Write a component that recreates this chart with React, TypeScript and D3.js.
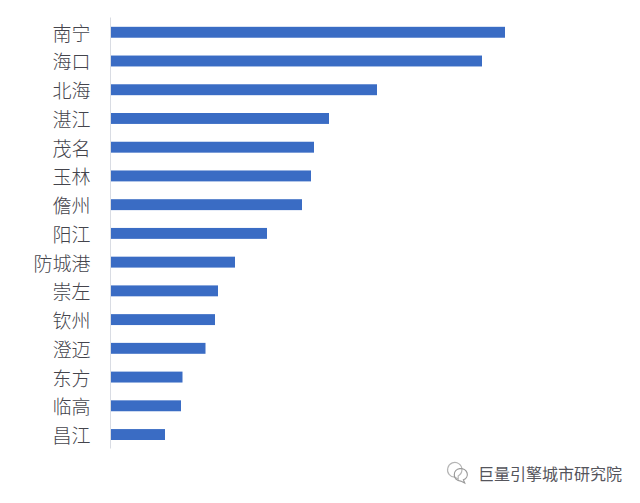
import React from 'react';
import * as d3 from 'd3';

const cities = ['南宁', '海口', '北海', '湛江', '茂名', '玉林', '儋州', '阳江', '防城港', '崇左', '钦州', '澄迈', '东方', '临高', '昌江'];
const values = [394, 371, 266, 218, 203, 200, 191, 156, 124, 107, 104, 94.5, 71.5, 70, 54];

const width = 640;
const height = 503;
const CJK = '"Noto Sans CJK SC", sans-serif';

export default function App() {
  const x = d3.scaleLinear().domain([0, 394]).range([111, 505]);
  const y = d3.scaleBand<string>().domain(cities).range([17.5, 448.5]).paddingInner(0.62).paddingOuter(0.31);

  return (
    <svg
      width={width}
      height={height}
      style={{ position: 'absolute', left: 0, top: 0, background: '#fff' }}
    >
      {/* bars */}
      {cities.map((c, i) => (
        <rect key={c} x={x(0)} y={y(c)! + 0.4} width={x(values[i]) - x(0)} height={y.bandwidth()} fill="#3a6cc4" />
      ))}
      {/* category axis */}
      <line x1={110.5} x2={110.5} y1={y.range()[0]} y2={y.range()[1]} stroke="#d9dce3" />
      {cities.map((c) => (
        <text
          key={c}
          x={90.5}
          y={y(c)! + y.bandwidth() / 2 + 2}
          dy="0.36em"
          textAnchor="end"
          fontFamily={CJK}
          fontSize={19}
          fontWeight={300}
          fill="#44444c"
        >
          {c}
        </text>
      ))}
      {/* watermark */}
      <g transform="translate(453,472) scale(1.3)" fill="none" stroke="#b5b5b5" strokeWidth={0.9}>
        <path d="M-4,-3 a5.5,5.5 0 1 1 8,6 l0,2.5 l-2.5,-1.5 a5.5,5.5 0 0 1 -5.5,-7z" />
        <path d="M1,2 a5,4.5 0 1 1 7,4 l1,2.5 l-3,-1.5 a5,4.5 0 0 1 -5,-5z" stroke="#999" />
      </g>
      <text x={478} y={479.5} fontFamily={CJK} fontSize={16} fill="#55555c" fontWeight={400}>
        巨量引擎城市研究院
      </text>
    </svg>
  );
}
